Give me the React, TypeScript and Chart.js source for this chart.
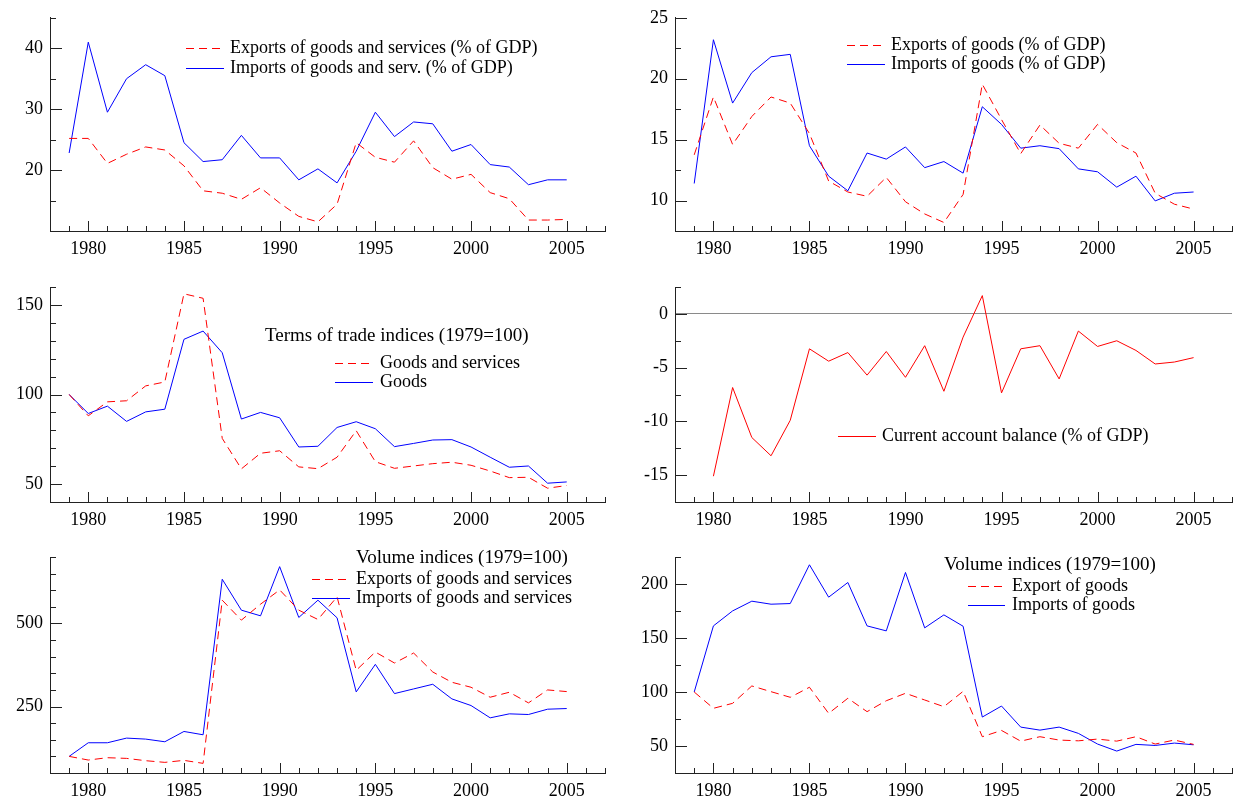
import React, { useEffect, useRef } from "react";
import { Chart, registerables } from "chart.js";
Chart.register(...registerables);

const years = [1979, 1980, 1981, 1982, 1983, 1984, 1985, 1986, 1987, 1988, 1989, 1990, 1991, 1992, 1993, 1994, 1995, 1996, 1997, 1998, 1999, 2000, 2001, 2002, 2003, 2004, 2005];
const xTickLabels = [1980, 1985, 1990, 1995, 2000, 2005];

// Panel 1: shares of GDP, goods and services
const exportsGS = [25.2, 25.2, 21.1, 22.6, 23.8, 23.3, 20.7, 16.6, 16.2, 15.2, 17.1, 14.6, 12.4, 11.5, 14.4, 24.5, 22.1, 21.3, 24.8, 20.4, 18.5, 19.3, 16.3, 15.3, 11.8, 11.8, 11.9];
const importsGS = [22.8, 41.0, 29.5, 35.0, 37.3, 35.5, 24.5, 21.4, 21.7, 25.7, 22.0, 22.0, 18.4, 20.2, 17.9, 23.1, 29.5, 25.5, 27.9, 27.6, 23.1, 24.2, 20.9, 20.5, 17.6, 18.4, 18.4];
const p1YLabels = [20, 30, 40];

// Panel 2: shares of GDP, goods
const exportsG = [13.75, 18.5, 14.6, 16.9, 18.5, 18.0, 15.5, 11.6, 10.7, 10.35, 11.9, 9.9, 8.9, 8.2, 10.5, 19.55, 16.65, 13.85, 16.2, 14.7, 14.3, 16.25, 14.75, 13.9, 10.6, 9.7, 9.3];
const importsG = [11.4, 23.2, 18.0, 20.5, 21.8, 22.0, 14.5, 12.0, 10.8, 13.9, 13.4, 14.4, 12.7, 13.2, 12.25, 17.7, 16.25, 14.3, 14.5, 14.26, 12.6, 12.36, 11.1, 12.0, 9.97, 10.6, 10.7];
const p2YLabels = [10, 15, 20, 25];

// Panel 3: terms of trade
const totGS = [100, 88.1, 95.9, 96.5, 104.8, 107.0, 156.2, 153.7, 75.5, 58.5, 67.2, 68.6, 59.6, 58.6, 65.0, 79.8, 62.5, 58.8, 60.1, 61.4, 62.2, 60.5, 57.3, 53.6, 53.8, 47.7, 49.2];
const totG = [100, 89.4, 93.5, 85.0, 90.3, 91.8, 130.8, 135.4, 123.3, 86.3, 90.0, 87.0, 70.7, 71.1, 81.6, 84.8, 80.9, 70.9, 72.7, 74.6, 74.8, 70.7, 65.0, 59.4, 60.1, 50.5, 51.2];
const p3YLabels = [50, 100, 150];

// Panel 4: current account balance
const currentAccount = [null, -15.1, -6.85, -11.5, -13.2, -9.9, -3.25, -4.4, -3.6, -5.7, -3.5, -5.9, -2.96, -7.2, -2.16, 1.7, -7.35, -3.25, -2.96, -6.05, -1.6, -3.03, -2.5, -3.4, -4.66, -4.48, -4.07];
const p4YLabels = [-15, -10, -5, 0];

// Panel 5: volume indices goods and services
const volExportsGS = [100, 89, 96, 94, 87, 82, 88, 79, 570, 510, 558, 601, 540, 512, 580, 359, 414, 381, 411, 354, 323, 308, 278, 293, 261, 300, 295];
const volImportsGS = [100, 141, 141, 155, 152, 144, 175, 165, 633, 540, 523, 671, 518, 570, 517, 294, 377, 289, 303, 317, 273, 253, 216, 228, 226, 242, 244];
const p5YLabels = [250, 500];

// Panel 6: volume indices goods
const volExportsG = [100, 84.9, 89.5, 105.6, 100.3, 95.1, 104.4, 80.2, 94.2, 81.8, 91.9, 98.8, 92.6, 86.4, 100.6, 58.6, 64.4, 54.5, 58.6, 55.5, 54.8, 56.4, 54.5, 58.6, 51.8, 55.5, 51.5];
const volImportsG = [100, 161.2, 175.1, 184.1, 181.3, 181.9, 217.8, 187.8, 201.4, 161.2, 156.6, 210.7, 159.4, 171.4, 160.9, 76.8, 87, 67.5, 64.7, 67.5, 61.7, 51.8, 45.3, 51.5, 50.5, 52.7, 51.1];
const p6YLabels = [50, 100, 150, 200];

const RED = "#ff0000";
const BLUE = "#0000ff";
const AXIS = "#222222";
const FONT = '"Liberation Serif", "Times New Roman", serif';
const FONT_SIZE = 18;
const TITLE_SIZE = 19;

type Series = { label: string; data: (number | null)[]; color: string; dashed: boolean };
type Panel = {
  x: number; y: number; w: number; h: number;
  area: { left: number; top: number; right: number; bottom: number };
  yMin: number; yMax: number; yStep: number; yLabels: number[];
  series: Series[];
  title?: { text: string; x: number; y: number };
  legend: { x0: number; x1: number; textX: number; y: number; dy: number };
  zeroLine?: boolean;
};

const LEFT = { x: 0, w: 620, left: 50, right: 605 };
const RIGHT = { x: 620, w: 618, left: 55, right: 612 };
const ROWS = [
  { y: 0, h: 265, top: 15, bottom: 231 },
  { y: 265, h: 265, top: 22, bottom: 237 },
  { y: 530, h: 269, top: 27, bottom: 243 },
];

function mk(col: typeof LEFT, row: typeof ROWS[0]) {
  return { x: col.x, y: row.y, w: col.w, h: row.h, area: { left: col.left, right: col.right, top: row.top, bottom: row.bottom } };
}

const panels: Panel[] = [
  {
    ...mk(LEFT, ROWS[0]), yMin: 10, yMax: 45, yStep: 5, yLabels: p1YLabels,
    series: [
      { label: "Exports of goods and services (% of GDP)", data: exportsGS, color: RED, dashed: true },
      { label: "Imports of goods and serv. (% of GDP)", data: importsGS, color: BLUE, dashed: false },
    ],
    legend: { x0: 186, x1: 224, textX: 230, y: 48, dy: 20 },
  },
  {
    ...mk(RIGHT, ROWS[0]), yMin: 7.5, yMax: 25, yStep: 2.5, yLabels: p2YLabels,
    series: [
      { label: "Exports of goods (% of GDP)", data: exportsG, color: RED, dashed: true },
      { label: "Imports of goods (% of GDP)", data: importsG, color: BLUE, dashed: false },
    ],
    legend: { x0: 227, x1: 265, textX: 271, y: 45, dy: 19 },
  },
  {
    ...mk(LEFT, ROWS[1]), yMin: 40, yMax: 160, yStep: 10, yLabels: p3YLabels,
    series: [
      { label: "Goods and services", data: totGS, color: RED, dashed: true },
      { label: "Goods", data: totG, color: BLUE, dashed: false },
    ],
    title: { text: "Terms of trade indices (1979=100)", x: 265, y: 71 },
    legend: { x0: 335, x1: 373, textX: 380, y: 98, dy: 19 },
  },
  {
    ...mk(RIGHT, ROWS[1]), yMin: -17.5, yMax: 2.5, yStep: 2.5, yLabels: p4YLabels,
    series: [
      { label: "Current account balance (% of GDP)", data: currentAccount, color: RED, dashed: false },
    ],
    legend: { x0: 218, x1: 256, textX: 262, y: 171, dy: 19 },
    zeroLine: true,
  },
  {
    ...mk(LEFT, ROWS[2]), yMin: 50, yMax: 700, yStep: 50, yLabels: p5YLabels,
    series: [
      { label: "Exports of goods and services", data: volExportsGS, color: RED, dashed: true },
      { label: "Imports of goods and services", data: volImportsGS, color: BLUE, dashed: false },
    ],
    title: { text: "Volume indices (1979=100)", x: 356, y: 28 },
    legend: { x0: 312, x1: 350, textX: 356, y: 49, dy: 19 },
  },
  {
    ...mk(RIGHT, ROWS[2]), yMin: 25, yMax: 225, yStep: 25, yLabels: p6YLabels,
    series: [
      { label: "Export of goods", data: volExportsG, color: RED, dashed: true },
      { label: "Imports of goods", data: volImportsG, color: BLUE, dashed: false },
    ],
    title: { text: "Volume indices (1979=100)", x: 324, y: 35 },
    legend: { x0: 348, x1: 385, textX: 392, y: 56, dy: 19 },
  },
];

const DASH = [8, 5];

function PanelChart({ cfg }: { cfg: Panel }) {
  const ref = useRef<HTMLCanvasElement>(null);
  useEffect(() => {
    const canvas = ref.current;
    if (!canvas) return;
    const font = { family: FONT, size: FONT_SIZE };

    const decor = {
      id: "decor",
      afterDraw(chart: any) {
        const ctx = chart.ctx as CanvasRenderingContext2D;
        const xs = chart.scales.x;
        const ys = chart.scales.y;
        const a = chart.chartArea;
        ctx.save();
        ctx.strokeStyle = AXIS;
        ctx.lineWidth = 1;
        ctx.setLineDash([]);
        // x ticks (inside, pointing up)
        for (let yr = 1979; yr <= 2007; yr++) {
          const px = Math.round(xs.getPixelForValue(yr)) + 0.5;
          const len = yr % 5 === 0 ? 10 : 5;
          ctx.beginPath();
          ctx.moveTo(px, a.bottom);
          ctx.lineTo(px, a.bottom - len);
          ctx.stroke();
        }
        // y ticks (inside, pointing right)
        const n = Math.round((cfg.yMax - cfg.yMin) / cfg.yStep);
        for (let i = 0; i <= n; i++) {
          const v = cfg.yMin + i * cfg.yStep;
          const py = Math.round(ys.getPixelForValue(v)) + 0.5;
          const major = cfg.yLabels.some((l) => Math.abs(l - v) < 1e-9);
          const len = major ? 12 : 6;
          ctx.beginPath();
          ctx.moveTo(a.left, py);
          ctx.lineTo(a.left + len, py);
          ctx.stroke();
        }
        // title and legend
        ctx.fillStyle = "#000";
        ctx.textBaseline = "middle";
        ctx.textAlign = "left";
        if (cfg.title) {
          ctx.font = `${TITLE_SIZE}px ${FONT}`;
          ctx.fillText(cfg.title.text, cfg.title.x, cfg.title.y);
        }
        ctx.font = `${FONT_SIZE}px ${FONT}`;
        cfg.series.forEach((s, i) => {
          const y = Math.round(cfg.legend.y + i * cfg.legend.dy) + 0.5;
          ctx.strokeStyle = s.color;
          ctx.setLineDash(s.dashed ? DASH : []);
          ctx.beginPath();
          ctx.moveTo(cfg.legend.x0, y);
          ctx.lineTo(cfg.legend.x1, y);
          ctx.stroke();
          ctx.fillText(s.label, cfg.legend.textX, y);
        });
        ctx.restore();
      },
    };

    const chart = new Chart(canvas, {
      type: "line",
      data: {
        datasets: cfg.series.map((s) => ({
          label: s.label,
          data: years.map((yr, i) => ({ x: yr, y: s.data[i] })),
          borderColor: s.color,
          backgroundColor: s.color,
          borderWidth: 1,
          borderDash: s.dashed ? DASH : [],
          pointRadius: 0,
          tension: 0,
          fill: false,
          spanGaps: false,
        })),
      },
      options: {
        animation: false,
        responsive: false,
        maintainAspectRatio: false,
        events: [],
        layout: { padding: { left: 0, top: cfg.area.top, right: cfg.w - cfg.area.right, bottom: 0 } },
        plugins: { legend: { display: false }, tooltip: { enabled: false }, title: { display: false } },
        scales: {
          x: {
            type: "linear",
            min: 1978,
            max: 2007,
            position: "bottom",
            afterFit: (s: any) => { s.height = cfg.h - cfg.area.bottom; },
            afterBuildTicks: (s: any) => { s.ticks = xTickLabels.map((v) => ({ value: v })); },
            ticks: { font, color: "#000", padding: 7, maxRotation: 0, autoSkip: false, callback: (v: any) => String(v) },
            grid: { display: false, drawTicks: false },
            border: { display: true, color: AXIS, width: 1 },
          },
          y: {
            type: "linear",
            min: cfg.yMin,
            max: cfg.yMax,
            position: "left",
            afterFit: (s: any) => { s.width = cfg.area.left; },
            afterBuildTicks: (s: any) => { s.ticks = cfg.yLabels.map((v) => ({ value: v })); },
            ticks: { font, color: "#000", padding: 7, autoSkip: false, callback: (v: any) => String(v) },
            grid: {
              display: !!cfg.zeroLine,
              drawOnChartArea: true,
              drawTicks: false,
              lineWidth: 1,
              color: (c: any) => (c.tick && c.tick.value === 0 ? "#8a8a8a" : "rgba(0,0,0,0)"),
            },
            border: { display: true, color: AXIS, width: 1 },
          },
        },
      },
      plugins: [decor],
    } as any);
    return () => chart.destroy();
  }, [cfg]);
  return (
    <canvas
      ref={ref}
      width={cfg.w}
      height={cfg.h}
      style={{ position: "absolute", left: cfg.x, top: cfg.y, width: cfg.w, height: cfg.h }}
    />
  );
}

export default function App() {
  return (
    <div style={{ position: "absolute", left: 0, top: 0, width: 1238, height: 799, background: "#fff", overflow: "hidden" }}>
      {panels.map((p, i) => (
        <PanelChart key={i} cfg={p} />
      ))}
    </div>
  );
}
